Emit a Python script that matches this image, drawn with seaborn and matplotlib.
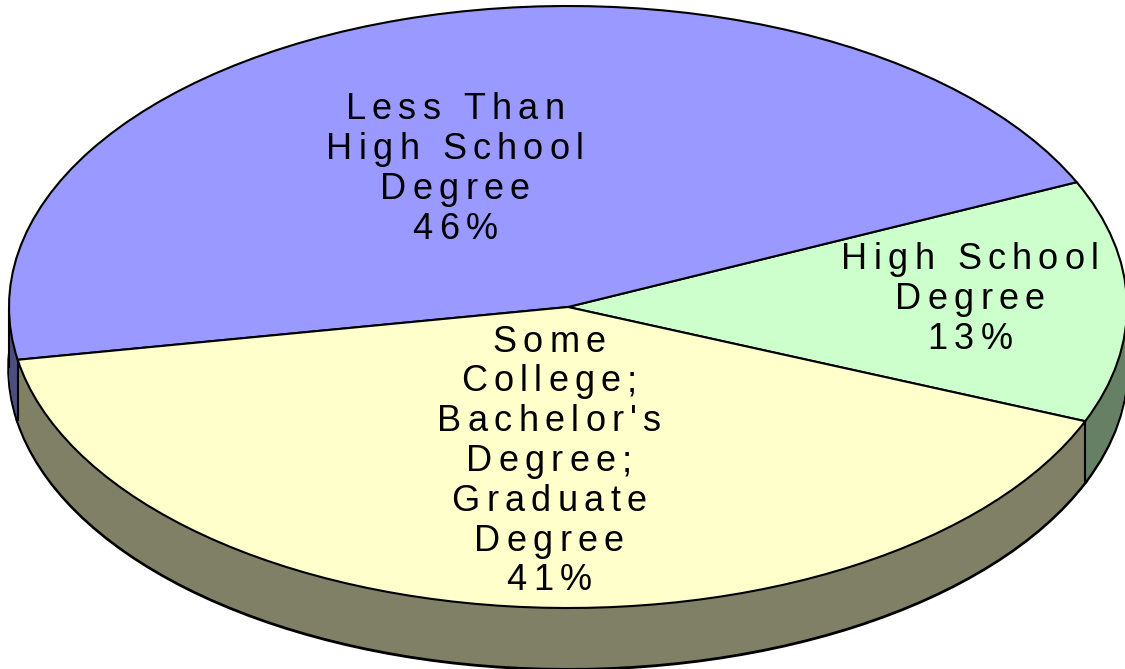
import numpy as np
import matplotlib
matplotlib.use('Agg')
import matplotlib.pyplot as plt
import seaborn as sns
from matplotlib.text import Text
from matplotlib.transforms import IdentityTransform

categories = ['High School\nDegree', 'Less Than\nHigh School\nDegree',
              "Some\nCollege;\nBachelor's\nDegree;\nGraduate\nDegree"]
shares = [13, 46, 41]
top_colors = ['#CCFFCC', '#9999FF', '#FFFFCC']
side_colors = ['#668066', '#4D4D80', '#808066']
label_centers_px = [(970, 297), (455, 167), (549, 459)]

WIDTH, HEIGHT = 1125, 669
CENTER_X, CENTER_Y = 568, 307
RADIUS_X, RADIUS_Y = 559, 301
DEPTH = 61 / RADIUS_Y
START_ANGLE = -22.3
LINE_PITCH = 39.8
LETTER_GAP = 6.3


class SpacedText(Text):
    # one line of text drawn with extra room between the letters
    def draw(self, renderer):
        line = self.get_text()
        font = self.get_fontproperties()

        def advance(char):
            full = renderer.get_text_width_height_descent(f'x{char}x', font, False)[0]
            return full - renderer.get_text_width_height_descent('xx', font, False)[0]

        advances = [advance(char) + LETTER_GAP for char in line]
        x, y = self.get_transform().transform(self.get_position())
        x -= (sum(advances) - LETTER_GAP) / 2
        for char, step in zip(line, advances):
            glyph = Text(x, y, char, fontproperties=font, color=self.get_color(),
                         ha='left', va='baseline', transform=IdentityTransform())
            glyph.set_figure(self.get_figure())
            glyph.draw(renderer)
            x += step


sns.set_theme(style='white')
plt.rcParams['font.family'] = ['Liberation Sans']

fig = plt.figure(figsize=(WIDTH / 100, HEIGHT / 100), dpi=100)
ax = fig.add_axes([0, 0, 1, 1])

# rim: outlined bottom disc, then solid layers up to the top face
ax.pie(shares, colors=side_colors, center=(0, -DEPTH), startangle=START_ANGLE,
       wedgeprops={'edgecolor': 'black', 'linewidth': 2.6})
for offset in np.linspace(DEPTH - 1 / RADIUS_Y, 1 / RADIUS_Y, 60):
    ax.pie(shares, colors=side_colors, center=(0, -offset), startangle=START_ANGLE,
           wedgeprops={'linewidth': 0})

# vertical rim lines where the slices meet and at the left side
boundaries = START_ANGLE + np.cumsum([0] + shares[:-1]) * 3.6
for angle in list(boundaries[[0, 2]]) + [180]:
    x = np.cos(np.radians(angle))
    y = np.sin(np.radians(angle))
    ax.plot([x, x], [y, y - DEPTH], color='black', linewidth=1.5, solid_capstyle='butt')

ax.pie(shares, colors=top_colors, startangle=START_ANGLE,
       wedgeprops={'edgecolor': 'black', 'linewidth': 1.5})

ax.set_aspect('auto')
ax.set_xlim(-CENTER_X / RADIUS_X, (WIDTH - CENTER_X) / RADIUS_X)
ax.set_ylim((CENTER_Y - HEIGHT) / RADIUS_Y, CENTER_Y / RADIUS_Y)

for category, share, (x, y) in zip(categories, shares, label_centers_px):
    lines = f'{category}\n{share}%'.split('\n')
    for i, line in enumerate(lines):
        baseline = y + (i - (len(lines) - 1) / 2) * LINE_PITCH + 12
        fig.add_artist(SpacedText(x / WIDTH, 1 - baseline / HEIGHT, line, fontsize=26,
                                  color='black', ha='center', va='baseline',
                                  transform=fig.transFigure))

plt.savefig('out.png', dpi=100)
plt.close('all')
